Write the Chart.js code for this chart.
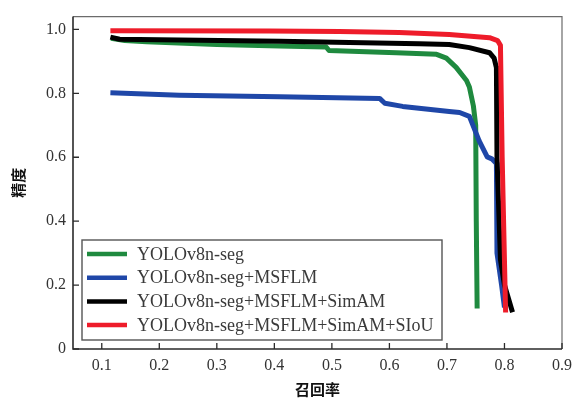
<!DOCTYPE html>
<html>
<head>
<meta charset="utf-8">
<script src="https://cdn.jsdelivr.net/npm/chart.js@4.4.0/dist/chart.umd.min.js"></script>
<style>
  html, body { margin: 0; padding: 0; background: #fff; }
</style>
</head>
<body>
<canvas id="chart" width="579" height="398"></canvas>
<script>
// series labels, in legend order
const seriesNames = [
  "YOLOv8n-seg",
  "YOLOv8n-seg+MSFLM",
  "YOLOv8n-seg+MSFLM+SimAM",
  "YOLOv8n-seg+MSFLM+SimAM+SIoU",
];
const seriesColors = ["#1f8a3f", "#1f47a8", "#000000", "#ee1c2a"];

// recall (x) / precision (y)
const greenRecall = [0.116, 0.14, 0.178, 0.3, 0.409, 0.49, 0.495, 0.612, 0.682, 0.699, 0.716, 0.734, 0.739, 0.746, 0.75, 0.751, 0.7525];
const greenPrecision = [0.972, 0.965, 0.961, 0.953, 0.948, 0.945, 0.934, 0.927, 0.922, 0.91, 0.881, 0.84, 0.82, 0.76, 0.70, 0.40, 0.127];

const blueRecall = [0.115, 0.235, 0.409, 0.583, 0.592, 0.623, 0.704, 0.722, 0.739, 0.756, 0.77, 0.778, 0.786, 0.787, 0.787, 0.795, 0.80];
const bluePrecision = [0.802, 0.794, 0.789, 0.784, 0.769, 0.759, 0.743, 0.74, 0.728, 0.651, 0.601, 0.595, 0.58, 0.45, 0.30, 0.20, 0.13];

const blackRecall = [0.115, 0.131, 0.409, 0.652, 0.704, 0.739, 0.774, 0.782, 0.786, 0.787, 0.793, 0.80, 0.814];
const blackPrecision = [0.976, 0.969, 0.963, 0.955, 0.953, 0.943, 0.927, 0.91, 0.88, 0.60, 0.28, 0.20, 0.115];

const redRecall = [0.115, 0.391, 0.513, 0.617, 0.704, 0.774, 0.788, 0.793, 0.796, 0.802];
const redPrecision = [0.996, 0.995, 0.993, 0.99, 0.984, 0.974, 0.965, 0.95, 0.60, 0.114];

const xTicks = [0.1, 0.2, 0.3, 0.4, 0.5, 0.6, 0.7, 0.8, 0.9];
const yTicks = [0, 0.2, 0.4, 0.6, 0.8, 1.0];

const allRecall = [greenRecall, blueRecall, blackRecall, redRecall];
const allPrecision = [greenPrecision, bluePrecision, blackPrecision, redPrecision];

function zip(xs, ys) {
  return xs.map((x, i) => ({ x: x, y: ys[i] }));
}

const datasets = seriesNames.map((name, i) => ({
  label: name,
  data: zip(allRecall[i], allPrecision[i]),
  borderColor: seriesColors[i],
  backgroundColor: seriesColors[i],
  borderWidth: 5,
  pointRadius: 0,
  tension: 0,
  fill: false,
  borderJoinStyle: "round",
  order: seriesNames.length - 1 - i, // red on top
}));

const serif = "'Liberation Serif', 'DejaVu Serif', serif";
const cjk = "'Noto Sans CJK SC', sans-serif";

// frame, inward ticks and the boxed legend
const decorations = {
  id: "decorations",
  afterDraw(chart) {
    const ctx = chart.ctx;
    const a = chart.chartArea;
    const xs = chart.scales.x;
    const ys = chart.scales.y;
    ctx.save();

    // top / right border
    ctx.strokeStyle = "#6b6b6b";
    ctx.lineWidth = 1.2;
    ctx.beginPath();
    ctx.moveTo(a.left, a.top);
    ctx.lineTo(a.right, a.top);
    ctx.lineTo(a.right, a.bottom);
    ctx.stroke();

    // left / bottom axis
    ctx.strokeStyle = "#2b2b2b";
    ctx.lineWidth = 1.6;
    ctx.beginPath();
    ctx.moveTo(a.left, a.top);
    ctx.lineTo(a.left, a.bottom);
    ctx.lineTo(a.right, a.bottom);
    ctx.stroke();

    // inward tick marks
    ctx.lineWidth = 1.3;
    ctx.beginPath();
    xTicks.forEach((v) => {
      const px = xs.getPixelForValue(v);
      ctx.moveTo(px, a.bottom);
      ctx.lineTo(px, a.bottom - 6);
    });
    yTicks.forEach((v) => {
      const py = ys.getPixelForValue(v);
      ctx.moveTo(a.left, py);
      ctx.lineTo(a.left + 6, py);
    });
    ctx.stroke();

    // legend box
    const bx = a.left + 9, by = a.bottom - 109, bw = 360, bh = 100;
    ctx.fillStyle = "#fff";
    ctx.fillRect(bx, by, bw, bh);
    ctx.strokeStyle = "#555";
    ctx.lineWidth = 1.4;
    ctx.strokeRect(bx, by, bw, bh);

    ctx.font = "18px " + serif;
    ctx.textBaseline = "middle";
    seriesNames.forEach((name, i) => {
      const ry = by + 14 + i * 23.7;
      ctx.strokeStyle = seriesColors[i];
      ctx.lineWidth = 4.5;
      ctx.beginPath();
      ctx.moveTo(bx + 5, ry);
      ctx.lineTo(bx + 45, ry);
      ctx.stroke();
      ctx.fillStyle = "#3a3a3a";
      ctx.fillText(name, bx + 55, ry + 1);
    });
    ctx.restore();
  },
};

new Chart(document.getElementById("chart"), {
  type: "line",
  data: { datasets },
  plugins: [decorations],
  options: {
    responsive: false,
    animation: false,
    layout: { padding: { top: 10, right: 16, left: 0, bottom: 0 } },
    plugins: { legend: { display: false }, tooltip: { enabled: false } },
    scales: {
      x: {
        type: "linear",
        min: 0.05,
        max: 0.9,
        afterBuildTicks: (s) => { s.ticks = xTicks.map((v) => ({ value: v })); },
        afterFit: (s) => { s.height = 49; },
        grid: { display: false, drawTicks: false },
        border: { display: false },
        ticks: {
          padding: 7,
          color: "#333",
          font: { family: serif, size: 16 },
          maxRotation: 0,
          callback: (v) => v.toFixed(1),
        },
        title: {
          display: true,
          text: "召回率",
          color: "#111",
          font: { family: cjk, size: 15, weight: "bold" },
          padding: { top: 5, bottom: 0 },
        },
      },
      y: {
        type: "linear",
        min: 0,
        max: 1.04,
        afterBuildTicks: (s) => { s.ticks = yTicks.map((v) => ({ value: v })); },
        afterFit: (s) => { s.width = 73; },
        grid: { display: false, drawTicks: false },
        border: { display: false },
        ticks: {
          padding: 7,
          color: "#333",
          font: { family: serif, size: 16 },
          callback: (v) => (v === 0 ? "0" : v.toFixed(1)),
        },
        title: {
          display: true,
          text: "精度",
          color: "#111",
          font: { family: cjk, size: 15, weight: "bold" },
          padding: { top: 9, bottom: 0 },
        },
      },
    },
  },
});
</script>
</body>
</html>
